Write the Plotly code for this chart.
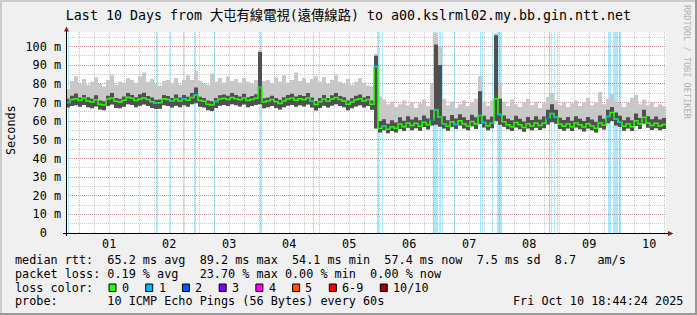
import numpy as np
import pandas as pd
import plotly.graph_objects as go

# ---------------- data ----------------
t_start = pd.Timestamp("2025-09-30 18:44:24")
t_end = pd.Timestamp("2025-10-10 18:44:24")
sample_minutes = 96

median_ms = [
    70.0, 71.5, 72.0, 71.0, 72.3, 70.8, 70.2, 71.4, 69.0, 68.6,
    71.8, 72.4, 70.6, 70.2, 71.2, 72.8, 72.2, 71.0, 71.8, 72.4,
    71.6, 70.4, 69.6, 69.8, 72.0, 71.5, 70.6, 71.8, 70.8, 72.0,
    71.2, 72.6, 74.0, 71.0, 70.6, 69.0, 68.6, 70.5, 71.8, 72.2,
    71.6, 72.6, 72.0, 71.4, 72.4, 71.0, 71.6, 72.2, 78.0, 70.2,
    70.8, 71.6, 70.4, 69.4, 70.8, 71.8, 72.2, 71.2, 72.0, 71.4,
    72.4, 70.6, 68.8, 70.4, 71.8, 70.6, 71.8, 72.6, 71.6, 70.8,
    69.0, 70.2, 71.4, 72.0, 70.8, 71.6, 69.0,
    89.2,
    56.0, 57.4, 55.6, 57.0, 56.2, 58.4, 57.0, 59.0, 57.6, 58.8,
    57.2, 59.4, 58.0, 60.6, 66.0, 62.0, 58.6, 57.2, 59.6, 58.2,
    60.2, 58.6, 57.4, 59.8, 58.4, 63.0, 59.2, 57.4, 58.8, 72.0,
    63.5, 59.6, 58.0, 57.0, 59.2, 58.0, 56.6, 58.6, 57.4, 59.0,
    57.6, 58.8, 61.5, 64.0, 62.0, 58.4, 57.2, 58.6, 57.0, 59.0,
    58.0, 56.8, 58.6, 57.4, 56.2, 59.0, 57.8, 62.5, 64.6, 61.0,
    59.4, 57.2, 58.6, 57.0, 60.2, 58.4, 62.0, 59.0, 57.6, 58.8, 57.4, 58.2,
]

smoke_max_ms = [
    77.0, 81.5, 84.0, 80.0, 82.5, 79.5, 81.0, 83.5, 80.0, 78.5,
    82.0, 84.5, 79.5, 81.0, 80.5, 83.0, 82.0, 80.5, 84.0, 86.0,
    81.0, 82.5, 80.0, 79.0, 81.5, 82.0, 80.5, 83.0, 79.5, 82.0,
    84.5, 82.0, 87.0, 81.5, 80.0, 79.5, 85.5, 81.0, 83.0, 80.5,
    84.0, 81.5, 82.5, 80.5, 83.0, 81.0, 80.0, 82.0, 98.0, 81.5,
    82.0, 80.0, 83.5, 81.0, 84.5, 80.5, 82.0, 86.0, 81.5, 83.0,
    80.5, 82.5, 84.0, 81.0, 83.5, 80.0, 82.0, 84.5, 81.0, 80.0,
    82.5, 79.5, 81.0, 83.0, 80.5, 79.0, 78.5,
    96.0,
    73.0, 71.5, 69.0, 70.5, 67.5, 69.0, 71.0, 68.5, 70.0, 67.0,
    69.5, 71.5, 68.0, 80.0, 107.0, 100.0, 72.0, 68.5, 70.5, 67.0,
    69.0, 71.0, 68.0, 70.0, 72.0, 84.0, 70.5, 68.0, 71.0, 107.0,
    80.0, 70.5, 68.0, 71.5, 69.0, 67.5, 70.0, 72.0, 68.5, 70.5,
    67.0, 69.5, 73.0, 75.0, 71.0, 68.5, 70.0, 67.5, 69.5, 71.0,
    68.0, 70.0, 72.5, 68.5, 70.0, 75.5, 69.0, 72.0, 74.5, 71.0,
    69.5, 67.5, 70.0, 72.5, 74.0, 69.0, 71.5, 68.5, 70.0, 67.5, 69.0, 68.0,
]

smoke_min_ms = [
    67.2, 68.0, 68.4, 67.6, 68.6, 67.4, 66.8, 67.8, 66.2, 65.8,
    68.0, 68.8, 67.0, 66.8, 67.6, 69.0, 68.6, 67.4, 68.2, 68.8,
    68.0, 67.0, 66.4, 66.6, 68.4, 68.0, 67.2, 68.2, 67.4, 68.4,
    67.6, 69.0, 69.6, 67.6, 67.2, 65.8, 65.4, 67.0, 68.2, 68.6,
    68.0, 69.0, 68.4, 67.8, 68.8, 67.4, 68.0, 68.6, 69.0, 66.8,
    67.4, 68.0, 67.0, 66.2, 67.4, 68.2, 68.6, 67.6, 68.4, 67.8,
    68.8, 67.2, 65.6, 67.0, 68.2, 67.2, 68.2, 69.0, 68.0, 67.4,
    65.8, 66.8, 67.8, 68.4, 67.2, 68.0, 66.0,
    56.0,
    53.8, 55.0, 53.4, 54.6, 53.8, 55.8, 54.6, 56.4, 55.0, 56.2,
    54.8, 56.8, 55.4, 57.6, 58.0, 57.0, 56.0, 54.8, 57.0, 55.8,
    57.6, 56.0, 55.0, 57.2, 55.8, 58.4, 56.6, 55.0, 56.2, 60.0,
    58.0, 57.0, 55.6, 54.6, 56.6, 55.6, 54.2, 56.0, 55.0, 56.4,
    55.2, 56.2, 58.2, 59.4, 58.6, 55.8, 54.8, 56.0, 54.6, 56.6,
    55.6, 54.4, 56.0, 55.0, 53.8, 56.4, 55.4, 58.8, 60.0, 57.6,
    56.8, 54.8, 56.0, 54.6, 57.4, 55.8, 58.6, 56.4, 55.2, 56.2, 55.0, 55.8,
]

smoke_core_ms = [
    72.0, 73.5, 74.8, 72.6, 74.0, 72.8, 72.0, 73.8, 71.0, 70.6,
    73.6, 75.0, 72.4, 72.0, 73.2, 75.0, 74.0, 72.8, 74.4, 75.2,
    73.4, 72.6, 71.4, 71.6, 74.0, 73.4, 72.4, 74.2, 72.6, 74.0,
    73.0, 75.0, 78.0, 73.0, 72.4, 71.0, 70.6, 72.4, 73.8, 74.2,
    73.6, 75.0, 74.0, 73.2, 74.6, 72.8, 73.4, 74.4, 97.0, 72.2,
    72.6, 73.6, 72.4, 71.4, 72.8, 74.0, 74.6, 73.2, 74.0, 73.4,
    75.0, 72.6, 70.8, 72.4, 74.0, 72.4, 73.8, 75.0, 73.4, 72.8,
    71.0, 72.2, 73.6, 74.2, 72.6, 73.4, 71.0,
    95.0,
    60.0, 61.0, 58.6, 60.4, 59.2, 62.0, 60.2, 62.6, 60.8, 62.0,
    60.4, 63.0, 61.4, 66.0, 101.0, 90.0, 62.6, 60.4, 63.2, 61.4,
    63.6, 62.0, 60.6, 63.4, 62.0, 76.0, 62.8, 60.8, 62.4, 106.0,
    72.0, 63.0, 61.2, 60.4, 62.8, 61.2, 59.8, 62.2, 60.6, 62.6,
    60.8, 62.4, 66.0, 69.0, 66.0, 61.8, 60.6, 62.2, 60.2, 62.6,
    61.2, 60.0, 62.2, 60.8, 59.6, 63.0, 61.2, 66.0, 67.5, 64.6,
    62.8, 60.4, 62.0, 60.4, 64.0, 61.6, 66.0, 62.6, 61.0, 62.4, 60.8, 61.6,
]

loss_start = [
    "2025-09-30 19:36", "2025-10-02 06:48", "2025-10-02 12:24", "2025-10-02 17:36",
    "2025-10-02 22:00", "2025-10-03 05:48", "2025-10-04 00:24", "2025-10-04 21:36",
    "2025-10-05 23:00", "2025-10-06 01:12", "2025-10-06 21:36", "2025-10-06 22:00",
    "2025-10-07 00:16", "2025-10-07 01:12", "2025-10-07 06:00", "2025-10-07 16:24",
    "2025-10-07 17:12", "2025-10-07 21:12", "2025-10-07 23:04", "2025-10-08 20:00",
    "2025-10-08 20:48", "2025-10-08 22:00", "2025-10-08 23:04", "2025-10-09 19:36",
    "2025-10-09 21:28", "2025-10-10 00:08",
]
loss_minutes = [24, 48, 24, 24, 48, 24, 48, 24, 60, 24, 24, 100, 24, 24, 24, 24,
                24, 24, 128, 24, 24, 24, 24, 72, 120, 32]
loss_pings = [1, 1, 1, 1, 1, 1, 1, 1, 1, 1, 2, 1, 1, 1, 1, 1,
              1, 1, 1, 2, 1, 1, 1, 1, 1, 1]

loss_legend_labels = ["0", "1", "2", "3", "4", "5", "6-9", "10/10"]
loss_legend_colors = ["#26ff00", "#00b8ff", "#0059ff", "#7e00ff",
                      "#ff00ff", "#ff5500", "#ff0000", "#a10000"]

y_tick_values = [0, 10, 20, 30, 40, 50, 60, 70, 80, 90, 100]
y_tick_labels = ["0\u00a0\u00a0", "10 m", "20 m", "30 m", "40 m", "50 m",
                 "60 m", "70 m", "80 m", "90 m", "100 m"]

title_text = "Last 10 Days from 大屯有線電視(遠傳線路) to a00.kslrml02.my.bb.gin.ntt.net"
stats_rtt = ["median rtt:", "65.2 ms avg", "89.2 ms max", "54.1 ms min",
             "57.4 ms now", "7.5 ms sd", "8.7", "am/s"]
stats_loss = ["packet loss:", "0.19 % avg", "23.70 % max", "0.00 % min", "0.00 % now"]
probe_text = ["probe:", "10 ICMP Echo Pings (56 Bytes) every 60s"]
stamp_text = "Fri Oct 10 18:44:24 2025"

# ---------------- styling / layout ----------------
W, H = 697, 315
L, R, T, B = 66, 666, 32, 233
Y_MAX = (B - T) / 1.866
MONO = "DejaVu Sans Mono, Noto Sans CJK TC"
FS = 11.8
CW = 7.12  # monospace advance at FS


def fx(px):
    return (px - L) / (R - L)


def fy(py):
    return (B - py) / (B - T)


NB = "\u00a0"


def at_cols(pairs):
    s = ""
    for col, seg in pairs:
        if len(s) < col:
            s += NB * (col - len(s))
        s += seg.replace(" ", NB)
    return s


step = pd.Timedelta(minutes=sample_minutes)
n = len(median_ms)
edges = t_start + step * np.arange(n + 1)


def stepped(vals):
    return list(vals) + [vals[-1]]


fig = go.Figure()

# loss background bars
lc_map = {1: "rgba(0,184,255,0.33)", 2: "rgba(0,89,255,0.33)"}
ls = pd.to_datetime(loss_start)
ld = pd.to_timedelta(loss_minutes, unit="min")
for cnt in sorted(set(loss_pings)):
    idx = [i for i, c in enumerate(loss_pings) if c == cnt]
    fig.add_trace(go.Bar(
        x=[ls[i] + ld[i] / 2 for i in idx],
        y=[Y_MAX] * len(idx),
        base=0,
        width=[ld[i].total_seconds() * 1000 for i in idx],
        marker=dict(color=lc_map[cnt], line=dict(width=0)),
        hoverinfo="skip",
    ))

# smoke: outer band
fig.add_trace(go.Scatter(x=edges, y=stepped(smoke_min_ms), mode="lines",
                         line=dict(width=0, shape="hv"), hoverinfo="skip"))
fig.add_trace(go.Scatter(x=edges, y=stepped(smoke_max_ms), mode="lines",
                         line=dict(width=0, shape="hv"), fill="tonexty",
                         fillcolor="#c8c8c8", hoverinfo="skip"))
# smoke: dense core
fig.add_trace(go.Scatter(x=edges, y=stepped(smoke_min_ms), mode="lines",
                         line=dict(width=0, shape="hv"), hoverinfo="skip"))
fig.add_trace(go.Scatter(x=edges, y=stepped(smoke_core_ms), mode="lines",
                         line=dict(width=0, shape="hv"), fill="tonexty",
                         fillcolor="#505050", hoverinfo="skip"))

# median line
fig.add_trace(go.Scatter(x=edges, y=stepped(median_ms), mode="lines",
                         line=dict(color=loss_legend_colors[0], width=1.5, shape="hv"),
                         hoverinfo="skip"))

# median coloured by loss where loss occurred
for cnt in sorted(set(loss_pings)):
    xs, ys = [], []
    for i, c in enumerate(loss_pings):
        if c != cnt:
            continue
        mid = ls[i] + ld[i] / 2
        k = int((mid - t_start) / step)
        k = min(max(k, 0), n - 1)
        xs += [edges[k], edges[k + 1], None]
        ys += [median_ms[k], median_ms[k], None]
    fig.add_trace(go.Scatter(x=xs, y=ys, mode="lines",
                             line=dict(color=loss_legend_colors[cnt], width=1.5),
                             hoverinfo="skip"))

GRID = "rgba(140,140,140,0.45)"
MGRID = "rgba(200,60,60,0.42)"
DOT = "1px,1px"

annotations = []


def txt(px, py, s, size=FS, color="#000000", anchor="left", angle=0):
    annotations.append(dict(
        x=fx(px), y=fy(py), xref="paper", yref="paper", text=s, showarrow=False,
        xanchor=anchor, yanchor="middle", textangle=angle,
        font=dict(family=MONO, size=size, color=color),
        borderpad=0, borderwidth=0,
    ))


X0 = 15
txt(X0, 259.5, at_cols(list(zip([0, 13, 26, 39, 52, 65, 76, 82], stats_rtt))))
txt(X0, 273.5, at_cols(list(zip([0, 13, 26, 38, 50], stats_loss))))
txt(X0, 287.7, "loss" + NB + "color:")
txt(X0, 301.2, at_cols(list(zip([0, 13], probe_text))))
txt(X0 + 70 * CW, 301.2, stamp_text.replace(" ", NB))
txt(11, 130, "Seconds", angle=-90, anchor="center")
txt(687, 62, "RRDTOOL" + NB + "/" + NB + "TOBI" + NB + "OETIKER", size=8.6,
    color="#b4b4b4", angle=90, anchor="center")

shapes = []
# loss colour legend boxes
bx = 109.0
for lab, col in zip(loss_legend_labels, loss_legend_colors):
    shapes.append(dict(type="rect", xref="paper", yref="paper",
                       x0=fx(bx), x1=fx(bx + 7), y0=fy(291.5), y1=fy(284),
                       fillcolor=col, line=dict(color="#000000", width=1)))
    txt(bx + 12.8, 287.7, lab)
    bx += 29.6 + len(lab) * CW

# axes lines + arrows
shapes.append(dict(type="line", xref="paper", yref="paper",
                   x0=fx(63), x1=fx(669), y0=fy(233.5), y1=fy(233.5),
                   line=dict(color="#000000", width=1)))
shapes.append(dict(type="line", xref="paper", yref="paper",
                   x0=fx(66.5), x1=fx(66.5), y0=fy(236), y1=fy(30),
                   line=dict(color="#000000", width=1)))
shapes.append(dict(type="path", xref="paper", yref="paper",
                   path=f"M {fx(64.0)},{fy(31.5)} L {fx(66.5)},{fy(26.5)} L {fx(69.0)},{fy(31.5)} Z",
                   fillcolor="#7f1f1f", line=dict(width=0)))
shapes.append(dict(type="path", xref="paper", yref="paper",
                   path=f"M {fx(668)},{fy(231)} L {fx(673.5)},{fy(233.5)} L {fx(668)},{fy(236)} Z",
                   fillcolor="#7f1f1f", line=dict(width=0)))
# frame shading
shapes.append(dict(type="rect", xref="paper", yref="paper", x0=fx(0), x1=fx(2),
                   y0=fy(0), y1=fy(315), fillcolor="#cbcbcb", line=dict(width=0)))
shapes.append(dict(type="rect", xref="paper", yref="paper", x0=fx(0), x1=fx(697),
                   y0=fy(0), y1=fy(2), fillcolor="#cbcbcb", line=dict(width=0)))
shapes.append(dict(type="rect", xref="paper", yref="paper", x0=fx(695), x1=fx(697),
                   y0=fy(0), y1=fy(315), fillcolor="#999999", line=dict(width=0)))
shapes.append(dict(type="rect", xref="paper", yref="paper", x0=fx(0), x1=fx(697),
                   y0=fy(313), y1=fy(315), fillcolor="#999999", line=dict(width=0)))

fig.update_layout(
    width=W, height=H,
    margin=dict(l=L, r=W - R, t=T, b=H - B, pad=0, autoexpand=False),
    paper_bgcolor="#f0f0f0", plot_bgcolor="#ffffff",
    barmode="overlay", bargap=0, showlegend=False,
    font=dict(family=MONO, size=FS, color="#000000"),
    title=dict(text=title_text, x=0.5, xref="container", xanchor="center",
               y=1 - 15.5 / H, yref="container", yanchor="middle",
               font=dict(family=MONO, size=13.3, color="#000000")),
    annotations=annotations, shapes=shapes,
    xaxis=dict(type="date", range=[t_start, t_end], automargin=False,
               dtick=86400000, tick0="2025-10-01", tickformat="%d",
               ticklabelmode="period", ticks="", showline=False, zeroline=False,
               showgrid=True, gridcolor=MGRID, griddash=DOT, gridwidth=1,
               minor=dict(dtick=6 * 3600000, tick0="2025-10-01", showgrid=True,
                          gridcolor=GRID, griddash=DOT, gridwidth=1),
               tickfont=dict(family=MONO, size=FS), ticklabelstandoff=2,
               fixedrange=True),
    yaxis=dict(range=[0, Y_MAX], automargin=False, tickmode="array",
               tickvals=y_tick_values, ticktext=y_tick_labels, ticks="",
               showline=False, zeroline=False, showgrid=True, gridcolor=MGRID,
               griddash=DOT, gridwidth=1,
               minor=dict(tickmode="linear", tick0=0, dtick=5, showgrid=True,
                          gridcolor=GRID, griddash=DOT, gridwidth=1),
               tickfont=dict(family=MONO, size=FS), ticklabelstandoff=4,
               fixedrange=True),
)

fig.write_html("out.html")
